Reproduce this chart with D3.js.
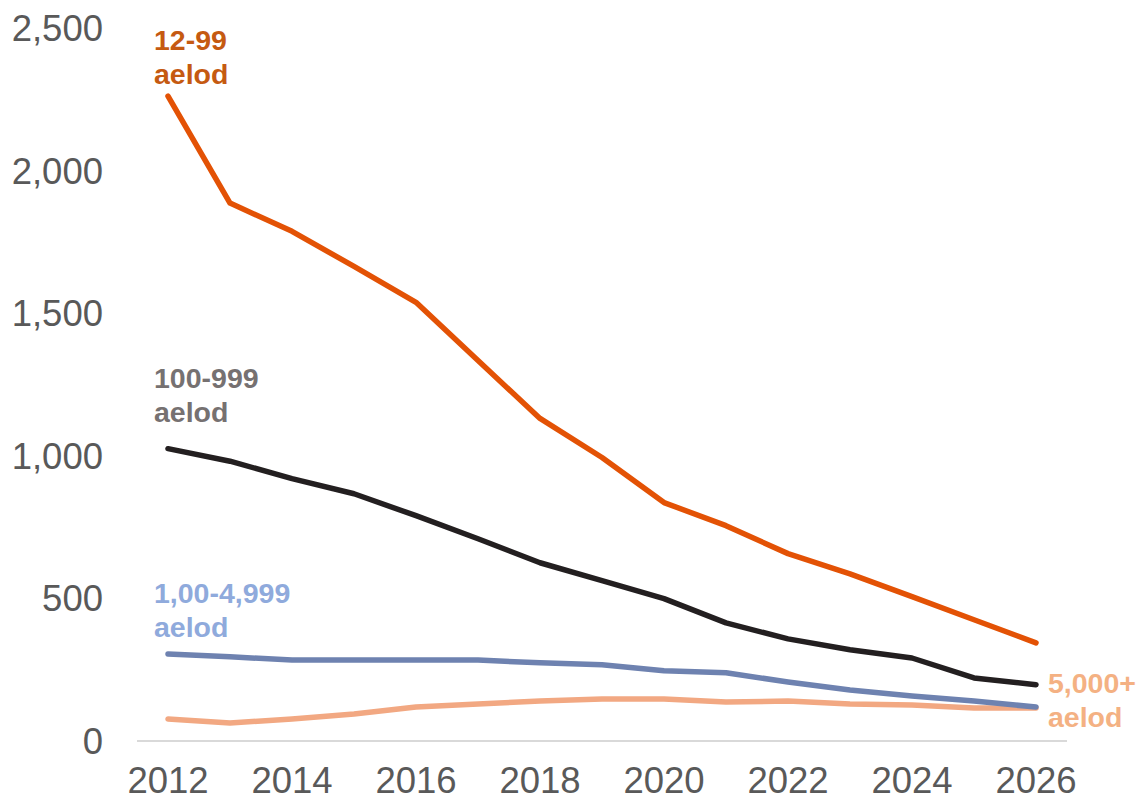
<!DOCTYPE html>
<html><head><meta charset="utf-8">
<script src="https://cdn.jsdelivr.net/npm/d3@7"></script>
<style>html,body{margin:0;padding:0;background:#fff;}svg{display:block;}</style>
</head><body>
<svg id="chart" width="1141" height="801"></svg>
<script>
const years = [2012,2013,2014,2015,2016,2017,2018,2019,2020,2021,2022,2023,2024,2025,2026];
const xTickLabels = [2012,2014,2016,2018,2020,2022,2024,2026];
const yTicks = [0,500,1000,1500,2000,2500];
const s12_99 = [2261,1886,1787,1664,1538,1334,1131,994,836,755,657,586,506,425,344];
const s100_999 = [1025,981,920,867,790,709,625,562,499,414,358,320,291,221,197];
const s1000_4999 = [305,295,284,284,284,284,274,267,246,239,207,179,158,140,119];
const s5000 = [77,63,77,95,119,130,140,147,147,137,140,130,126,116,116];

const series = [
  {name:"5000", values:s5000, color:"#F2A882", label:["5,000+","aelod"], labelColor:"#F4B183", lx:1048, ly:693},
  {name:"1000", values:s1000_4999, color:"#6E82B0", label:["1,00-4,999","aelod"], labelColor:"#8FAADC", lx:154, ly:603},
  {name:"100", values:s100_999, color:"#231F20", label:["100-999","aelod"], labelColor:"#767171", lx:154, ly:388},
  {name:"12", values:s12_99, color:"#E35205", label:["12-99","aelod"], labelColor:"#C55A11", lx:154, ly:50}
];

const svg = d3.select("#chart");
const x = d3.scaleLinear().domain([2011.5, 2026.5]).range([137, 1067]);
const y = d3.scaleLinear().domain([0, 2500]).range([741, 28]);

svg.append("line").attr("x1", x(2011.5)).attr("x2", x(2026.5))
  .attr("y1", y(0)).attr("y2", y(0)).attr("stroke", "#D9D9D9").attr("stroke-width", 2);

svg.append("g").selectAll("text").data(yTicks).join("text")
  .attr("x", 103).attr("y", d => y(d) + 13)
  .attr("text-anchor", "end")
  .attr("font-family", "'Liberation Sans', Arial, sans-serif")
  .attr("font-size", 36.5).attr("fill", "#595959")
  .text(d => d3.format(",")(d));

svg.append("g").selectAll("text").data(xTickLabels).join("text")
  .attr("x", d => x(d)).attr("y", 793)
  .attr("text-anchor", "middle")
  .attr("font-family", "'Liberation Sans', Arial, sans-serif")
  .attr("font-size", 36.5).attr("fill", "#595959")
  .text(d => d);

const line = d3.line().x((d,i) => x(years[i])).y(d => y(d));

svg.append("g").selectAll("path").data(series).join("path")
  .attr("d", d => line(d.values))
  .attr("fill", "none")
  .attr("stroke", d => d.color)
  .attr("stroke-width", 5.5)
  .attr("stroke-linejoin", "round")
  .attr("stroke-linecap", "round");

const lab = svg.append("g").selectAll("text").data(series).join("text")
  .attr("font-family", "'Liberation Sans', Arial, sans-serif")
  .attr("font-weight", "bold").attr("font-size", 28.5)
  .attr("fill", d => d.labelColor);
lab.each(function(d){
  const t = d3.select(this);
  d.label.forEach((s, i) => {
    t.append("tspan").attr("x", d.lx).attr("y", d.ly + i*34).text(s);
  });
});
</script>
</body></html>
